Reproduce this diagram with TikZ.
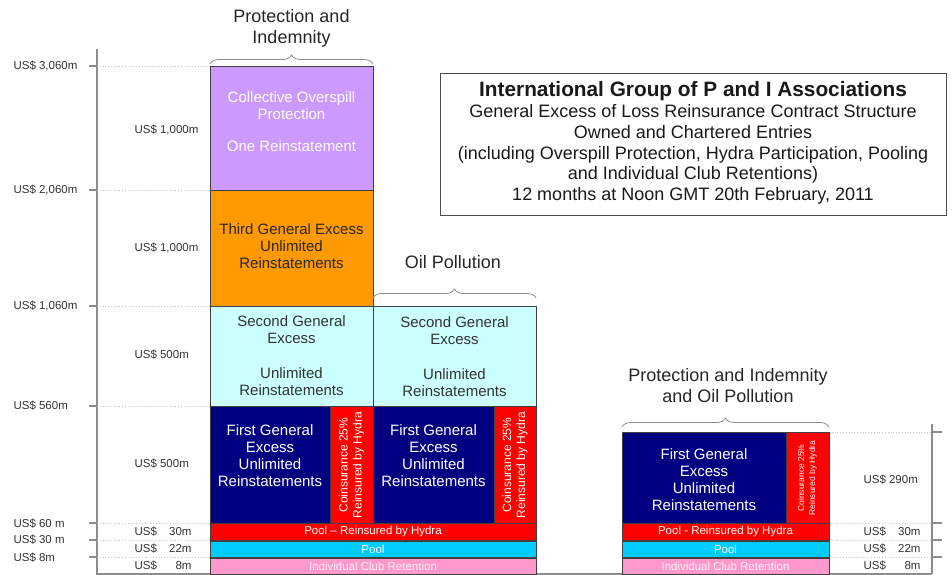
\documentclass[tikz,border=0pt]{standalone}
\usepackage{fontspec}
\setmainfont{Liberation Sans}
\usetikzlibrary{decorations.pathreplacing}

\definecolor{overspill}{HTML}{CC99FF}
\definecolor{thirdxs}{HTML}{FF9900}
\definecolor{secondxs}{HTML}{CCFFFF}
\definecolor{firstxs}{HTML}{000080}
\definecolor{hydra}{HTML}{FF0000}
\definecolor{pool}{HTML}{00CCFF}
\definecolor{retention}{HTML}{FF99CC}
\definecolor{axisgray}{HTML}{8C8C8C}

\tikzset{
  layer/.style={draw=black!75, line width=0.9pt},
  level/.style={draw=black!22, dotted, line width=0.8pt},
  axis/.style={draw=axisgray, line width=1.2pt},
  amount/.style={text=black!80, font=\fontsize{11.5}{13}\selectfont},
  boxtext/.style={align=center, font=\fontsize{15}{17}\selectfont},
  cointext/.style={align=center, text=white, rotate=90, font=\fontsize{12}{14}\selectfont},
  bartext/.style={text=white, font=\fontsize{11.5}{13}\selectfont},
  heading/.style={align=center, text=black!85, font=\fontsize{18}{21}\selectfont},
  grouping/.style={draw=black!45, line width=0.8pt, decorate, decoration={brace, amplitude=9pt}}
}

\begin{document}
\begin{tikzpicture}[x=1pt, y=-1pt]
                \useasboundingbox (0,0) rectangle (952,574);

                \draw[axis] (97,49) -- (97,574) -- (932,574);
                \draw[axis] (932,424) -- (932,574);
                \foreach \y in {66,190,306,406,523,540,557} {
                    \draw[axis] (89,\y) -- (97,\y);
                    \draw[level] (97,\y) -- (210,\y);
                }
                \foreach \y in {432,523,540,557} {
                    \draw[axis] (932,\y) -- (942,\y);
                    \draw[level] (829,\y) -- (932,\y);
                }

                \node[amount, anchor=west] (lv3060) at (10,66) {US\$ 3,060m};
                \node[amount, anchor=west] (lv2060) at (10,190) {US\$ 2,060m};
                \node[amount, anchor=west] (lv1060) at (10,306) {US\$ 1,060m};
                \node[amount, anchor=west] (lv560) at (10,406) {US\$ 560m};
                \node[amount, anchor=west] (lv60) at (10,524) {US\$ 60 m};
                \node[amount, anchor=west] (lv30) at (10,540) {US\$ 30 m};
                \node[amount, anchor=west] (lv8) at (10,558) {US\$ 8m};

                \node[amount, anchor=west] (amtcop) at (131,130) {US\$ 1,000m};
                \node[amount, anchor=west] (amtthird) at (131,248) {US\$ 1,000m};
                \node[amount, anchor=west] (amtsecond) at (131,355) {US\$ 500m};
                \node[amount, anchor=west] (amtfirst) at (131,464) {US\$ 500m};
                \node[amount, anchor=west] (amthydra) at (131,532) {\makebox[57pt]{US\$\hfill 30m}};
                \node[amount, anchor=west] (amtpool) at (131,549) {\makebox[57pt]{US\$\hfill 22m}};
                \node[amount, anchor=west] (amtclub) at (131,566) {\makebox[57pt]{US\$\hfill 8m}};

                \node[amount, anchor=west] (ramtfirst) at (860,480) {US\$ 290m};
                \node[amount, anchor=west] (ramthydra) at (860,532) {\makebox[57pt]{US\$\hfill 30m}};
                \node[amount, anchor=west] (ramtpool) at (860,549) {\makebox[57pt]{US\$\hfill 22m}};
                \node[amount, anchor=west] (ramtclub) at (860,566) {\makebox[57pt]{US\$\hfill 8m}};

                \filldraw[layer, fill=overspill] (210,66) rectangle (373,190);
                \filldraw[layer, fill=thirdxs] (210,190) rectangle (373,306);
                \filldraw[layer, fill=secondxs] (210,306) rectangle (373,406);
                \filldraw[layer, fill=secondxs] (373,306) rectangle (536,406);
                \filldraw[layer, fill=firstxs] (210,406) rectangle (330,523);
                \filldraw[layer, fill=hydra] (330,406) rectangle (373,523);
                \filldraw[layer, fill=firstxs] (373,406) rectangle (494,523);
                \filldraw[layer, fill=hydra] (494,406) rectangle (536,523);
                \filldraw[layer, fill=hydra] (210,523) rectangle (536,540);
                \filldraw[layer, fill=pool] (210,541) rectangle (536,557);
                \filldraw[layer, fill=retention] (210,558) rectangle (536,574);

                \filldraw[layer, fill=firstxs] (622,432) rectangle (786,523);
                \filldraw[layer, fill=hydra] (786,432) rectangle (829,523);
                \filldraw[layer, fill=hydra] (622,523) rectangle (829,540);
                \filldraw[layer, fill=pool] (622,541) rectangle (829,557);
                \filldraw[layer, fill=retention] (622,558) rectangle (829,574);

                \node[boxtext, text=white] (cop) at (291.5,122) {Collective Overspill\\Protection\\[15pt]One Reinstatement};
                \node[boxtext, text=black!85] (third) at (291.5,246) {Third General Excess\\Unlimited\\Reinstatements};
                \node[boxtext, text=black!80] (secondpi) at (291.5,356) {Second General\\Excess\\[18pt]Unlimited\\Reinstatements};
                \node[boxtext, text=black!80] (secondoil) at (454.5,357) {Second General\\Excess\\[18pt]Unlimited\\Reinstatements};
                \node[boxtext, text=white] (firstpi) at (270,456) {First General\\Excess\\Unlimited\\Reinstatements};
                \node[boxtext, text=white] (firstoil) at (433.5,456) {First General\\Excess\\Unlimited\\Reinstatements};
                \node[boxtext, text=white] (firstboth) at (704,480) {First General\\Excess\\Unlimited\\Reinstatements};
                \node[cointext] (coinpi) at (351.5,465) {Coinsurance 25\%\\Reinsured by Hydra};
                \node[cointext] (coinoil) at (515,465) {Coinsurance 25\%\\Reinsured by Hydra};
                \node[cointext, font=\fontsize{8.5}{11}\selectfont] (coinboth) at (807.5,478) {Coinsurance 25\%\\Reinsured by Hydra};

                \node[bartext] (hydrabar) at (373,532) {Pool -- Reinsured by Hydra};
                \node[bartext] (poolbar) at (373,549) {Pool};
                \node[bartext, text=white!85!retention] (clubbar) at (373,566) {Individual Club Retention};
                \node[bartext] (rhydrabar) at (725.5,532) {Pool - Reinsured by Hydra};
                \node[bartext] (rpoolbar) at (725.5,549) {Pool};
                \node[bartext, text=white!85!retention] (rclubbar) at (725.5,566) {Individual Club Retention};

                \draw[grouping] (210,64) -- (373,64);
                \draw[grouping] (373,298) -- (536,298);
                \draw[grouping] (622,427) -- (829,427);
                \node[heading] (headpi) at (291.5,28) {Protection and\\Indemnity};
                \node[heading] (headoil) at (453,262) {Oil Pollution};
                \node[heading] (headboth) at (728,386) {Protection and Indemnity\\and Oil Pollution};

                \draw[draw=black!70, line width=1pt] (440,73) rectangle (946,215);
                \node[align=center, text=black!90, font=\fontsize{18}{20.8}\selectfont] (title) at (693,143)
                    {{\bfseries\fontsize{20.8}{20.8}\selectfont International Group of P and I Associations}\\
                     General Excess of Loss Reinsurance Contract Structure\\
                     Owned and Chartered Entries\\
                     (including Overspill Protection, Hydra Participation, Pooling\\
                     and Individual Club Retentions)\\
                     12 months at Noon GMT 20th February, 2011};
            \end{tikzpicture}
\end{document}
